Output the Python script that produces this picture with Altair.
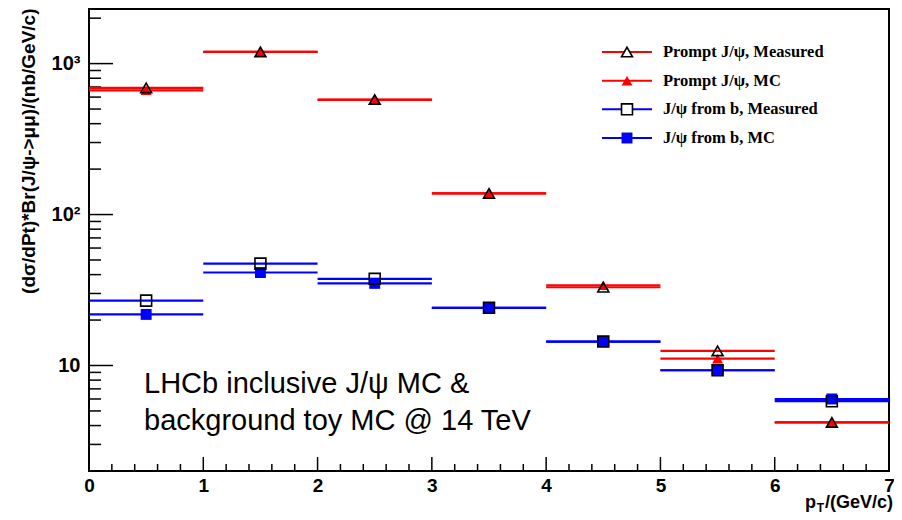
import pandas as pd
import altair as alt

# pT bins (GeV/c)
bin_lo = [0, 1, 2, 3, 4, 5, 6]
bin_hi = [1, 2, 3, 4, 5, 6, 7]

# d(sigma)/dpT * Br in nb/(GeV/c)
prompt_measured = [690, 1195, 578, 138, 33.0, 12.5, 4.2]
prompt_mc = [665, 1195, 575, 138, 34.0, 11.1, 4.2]
fromb_measured = [26.9, 47.3, 37.5, 24.1, 14.4, 9.3, 5.8]
fromb_mc = [21.8, 41.3, 35.0, 24.1, 14.4, 9.3, 6.0]

series = ["Prompt J/ψ, Measured", "Prompt J/ψ, MC",
          "J/ψ from b, Measured", "J/ψ from b, MC"]
colors = ["#ff0000", "#ff0000", "#0000ff", "#0000ff"]
shapes = ["triangle-up", "triangle-up", "square", "square"]
measured = [series[0], series[2]]
mc = [series[1], series[3]]

# axis tick positions
y_major = [10, 100, 1000]
y_minor = [3, 4, 5, 6, 7, 8, 9, 20, 30, 40, 50, 60, 70, 80, 90,
           200, 300, 400, 500, 600, 700, 800, 900, 2000]
x_major = [1, 2, 3, 4, 5, 6]
x_minor = [0.2, 0.4, 0.6, 0.8, 1.2, 1.4, 1.6, 1.8, 2.2, 2.4, 2.6, 2.8,
           3.2, 3.4, 3.6, 3.8, 4.2, 4.4, 4.6, 4.8, 5.2, 5.4, 5.6, 5.8,
           6.2, 6.4, 6.6, 6.8]

rows = []
for name, vals in zip(series, [prompt_measured, prompt_mc, fromb_measured, fromb_mc]):
    for lo, hi, v in zip(bin_lo, bin_hi, vals):
        rows.append({"series": name, "lo": lo, "hi": hi, "val": v})
df = pd.DataFrame(rows)

W, H = 800, 462
SANS = "Liberation Sans"

y_scale = alt.Scale(type="log", domain=[2, 2300], nice=False)
x_scale = alt.Scale(domain=[0, 7], nice=False)
y_axis = alt.Axis(values=y_major, grid=False, ticks=False, domain=False,
                  labelExpr="datum.value == 1000 ? '10³' : datum.value == 100 ? '10²' : '10'",
                  labelFont=SANS, labelFontSize=20, labelFontWeight="bold",
                  labelColor="black", labelPadding=9,
                  title="(dσ/dPt)*Br(J/ψ->μμ)/(nb/GeV/c)",
                  titleFont=SANS, titleFontSize=19, titleFontWeight="bold",
                  titleColor="black", titleAngle=270, titleAlign="right",
                  titleBaseline="alphabetic", titleX=-55, titleY=-1)
x_axis = alt.Axis(values=[0, 1, 2, 3, 4, 5, 6, 7], grid=False, ticks=False,
                  domain=False, labelFlush=False, labelOverlap=False,
                  labelFont=SANS, labelFontSize=19, labelFontWeight="bold",
                  labelColor="black", labelPadding=5, title=None, format="d")


def yenc(field):
    return alt.Y(f"{field}:Q", scale=y_scale, axis=y_axis)


def xenc(field):
    return alt.X(f"{field}:Q", scale=x_scale, axis=x_axis)


color = alt.Color("series:N", scale=alt.Scale(domain=series, range=colors), legend=None)
shape = alt.Shape("series:N", scale=alt.Scale(domain=series, range=shapes), legend=None)

base = alt.Chart(df)

bars = base.mark_rule(strokeWidth=2.2).encode(
    x=xenc("lo"), x2="hi", y=yenc("val"), color=color
)

mc_pts = base.transform_filter(
    alt.FieldOneOfPredicate(field="series", oneOf=mc)
).transform_calculate(mid="(datum.lo + datum.hi) / 2").mark_point(
    filled=True, size=120, opacity=1
).encode(x=xenc("mid"), y=yenc("val"), color=color, shape=shape)

meas_pts = base.transform_filter(
    alt.FieldOneOfPredicate(field="series", oneOf=measured)
).transform_calculate(mid="(datum.lo + datum.hi) / 2").mark_point(
    filled=False, size=120, strokeWidth=1.6, color="black", opacity=1
).encode(x=xenc("mid"), y=yenc("val"), shape=shape)

# ticks drawn on the inner side of the frame
ytick_major = alt.Chart(pd.DataFrame({"val": y_major})).mark_rule(
    color="black", strokeWidth=1.5
).encode(y=yenc("val"), x=alt.value(0), x2=alt.value(24))
ytick_minor = alt.Chart(pd.DataFrame({"val": y_minor})).mark_rule(
    color="black", strokeWidth=1.5
).encode(y=yenc("val"), x=alt.value(0), x2=alt.value(12))
xtick_major = alt.Chart(pd.DataFrame({"lo": x_major})).mark_rule(
    color="black", strokeWidth=1.5
).encode(x=xenc("lo"), y=alt.value(H), y2=alt.value(H - 14))
xtick_minor = alt.Chart(pd.DataFrame({"lo": x_minor})).mark_rule(
    color="black", strokeWidth=1.5
).encode(x=xenc("lo"), y=alt.value(H), y2=alt.value(H - 7))

plot = alt.layer(ytick_minor, ytick_major, xtick_minor, xtick_major,
                 bars, mc_pts, meas_pts)

# legend, top right, no box
leg_df = pd.DataFrame({"series": series})
leg_y = alt.Y("series:N", sort=series, axis=None,
              scale=alt.Scale(type="point", range=[43, 129], padding=0))
leg = alt.Chart(leg_df)
leg_lines = leg.mark_rule(strokeWidth=2).encode(
    y=leg_y, x=alt.value(513), x2=alt.value(563), color=color
)
leg_mc = leg.transform_filter(
    alt.FieldOneOfPredicate(field="series", oneOf=mc)
).mark_point(filled=True, size=120, opacity=1).encode(
    y=leg_y, x=alt.value(538), color=color, shape=shape
)
leg_meas = leg.transform_filter(
    alt.FieldOneOfPredicate(field="series", oneOf=measured)
).mark_point(filled=True, size=120, opacity=1, fill="white", stroke="black",
             strokeWidth=1.6).encode(y=leg_y, x=alt.value(538), shape=shape)
leg_text = leg.mark_text(
    align="left", baseline="middle", font="Liberation Serif",
    fontSize=16.5, fontWeight="bold", color="black"
).encode(y=leg_y, x=alt.value(574), text="series:N")

# annotation and x title
note = alt.Chart(pd.DataFrame({"t": ["LHCb inclusive J/ψ MC &\nbackground toy MC @ 14 TeV"]})).mark_text(
    align="left", baseline="alphabetic", font=SANS, fontSize=29,
    lineBreak="\n", lineHeight=37, color="black"
).encode(text="t:N", x=alt.value(55), y=alt.value(384))

xt = alt.Chart(pd.DataFrame({"t": ["/(GeV/c)"]}))
xtitle_main = xt.mark_text(align="right", baseline="alphabetic", font=SANS,
                           fontSize=18, fontWeight="bold", color="black").encode(
    text="t:N", x=alt.value(W + 4), y=alt.value(499))
xtitle_p = xt.mark_text(align="right", baseline="alphabetic", font=SANS,
                        fontSize=18, fontWeight="bold", color="black").encode(
    text=alt.value("p"), x=alt.value(W + 4 - 77), y=alt.value(499))
xtitle_t = xt.mark_text(align="right", baseline="alphabetic", font=SANS,
                        fontSize=12, fontWeight="bold", color="black").encode(
    text=alt.value("T"), x=alt.value(W + 4 - 69), y=alt.value(503))

overlay = alt.layer(leg_lines, leg_meas, leg_mc, leg_text, note,
                    xtitle_main, xtitle_p, xtitle_t)

chart = alt.layer(plot, overlay).resolve_scale(
    y="independent", color="independent", shape="independent"
).properties(
    width=W, height=H,
    padding={"left": 81, "top": 1, "right": 5, "bottom": 44},
    autosize=alt.AutoSizeParams(type="none"),
    background="white",
).configure_view(stroke="black", strokeWidth=2)

chart.save("out.html", embed_options={"renderer": "svg", "actions": False})
